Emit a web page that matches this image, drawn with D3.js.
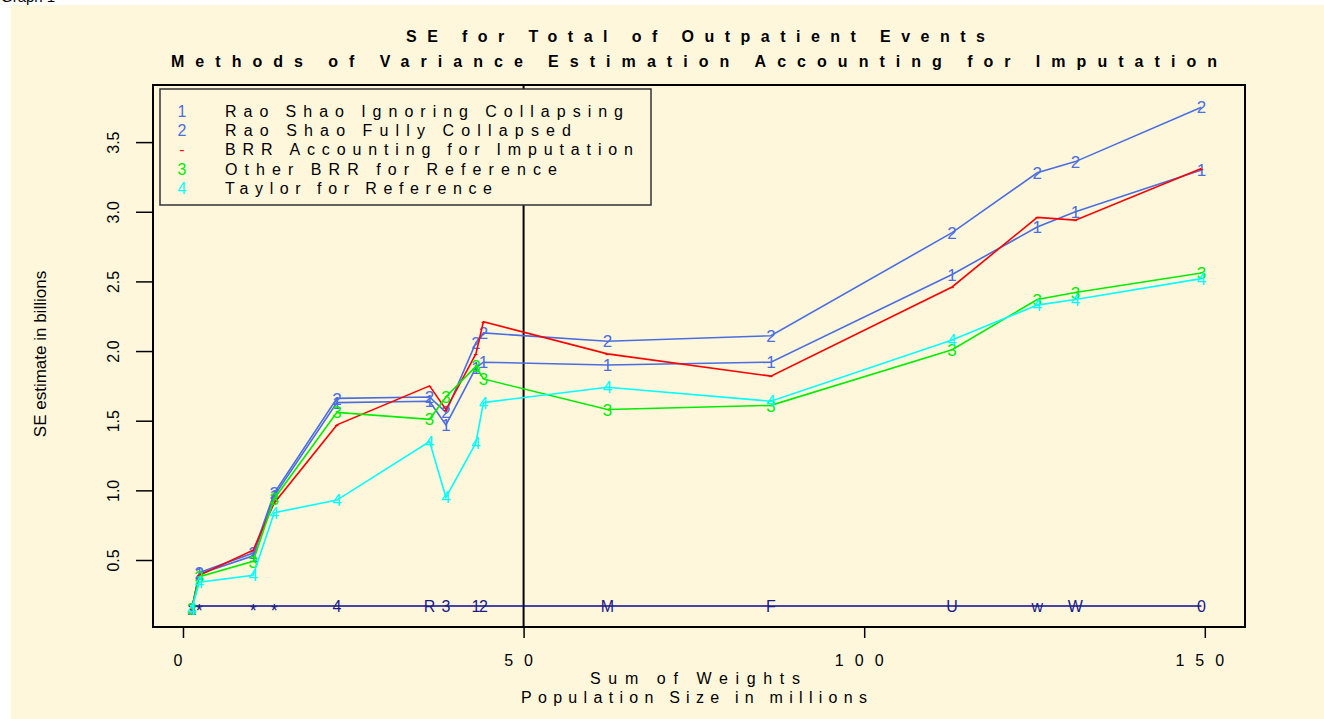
<!DOCTYPE html>
<html>
<head>
<meta charset="utf-8">
<script src="https://cdn.jsdelivr.net/npm/d3@7"></script>
<style>
  body { margin: 0; background: #fff; }
  svg { display: block; font-family: "Liberation Sans", Arial, sans-serif; }
</style>
</head>
<body>
<svg id="chart" width="1324" height="719"></svg>
<script>
// population size (sum of weights, millions) for each state group
const popSize = [1.3, 2.4, 10.3, 13.4, 22.6, 36.2, 38.6, 43.0, 44.1, 62.3, 86.3, 112.9, 125.4, 131.0, 149.5];
const baseLabels = ["*", "*", "*", "*", "4", "R", "3", "1", "2", "M", "F", "U", "w", "W", "0"];
const baseLevel = 0.17;

// SE estimates in billions
const seIgnoring = [0.15, 0.40, 0.53, 0.96, 1.63, 1.64, 1.47, 1.88, 1.92, 1.90, 1.92, 2.55, 2.89, 3.00, 3.30];
const seCollapsed = [0.15, 0.41, 0.55, 0.98, 1.66, 1.67, 1.56, 2.06, 2.13, 2.07, 2.11, 2.85, 3.28, 3.36, 3.75];
const seBrrImp = [0.15, 0.39, 0.57, 0.91, 1.47, 1.75, 1.58, 1.98, 2.21, 1.98, 1.82, 2.46, 2.96, 2.94, 3.31];
const seOtherBrr = [0.15, 0.38, 0.49, 0.94, 1.56, 1.51, 1.67, 1.89, 1.80, 1.58, 1.61, 2.01, 2.37, 2.42, 2.56];
const seTaylor = [0.15, 0.34, 0.39, 0.84, 0.93, 1.35, 0.95, 1.34, 1.63, 1.74, 1.64, 2.08, 2.33, 2.37, 2.52];

const seriesNames = [
  "Rao Shao Ignoring Collapsing",
  "Rao Shao Fully Collapsed",
  "BRR Accounting for Imputation",
  "Other BRR for Reference",
  "Taylor for Reference"
];
const seriesSymbols = ["1", "2", "-", "3", "4"];
const xTicks = [0, 50, 100, 150];
const yTicks = [0.5, 1.0, 1.5, 2.0, 2.5, 3.0, 3.5];

const colors = ["#4a6ee0", "#4a6ee0", "#ff0000", "#00ee00", "#00ffff"];
const series = [seIgnoring, seCollapsed, seBrrImp, seOtherBrr, seTaylor].map((values, i) => ({
  name: seriesNames[i], sym: seriesSymbols[i], color: colors[i], values
}));

// R spreads letters out but keeps word gaps tight
const spread = s => s.replace(/ /g, "\u2009");

const svg = d3.select("#chart");
const x = d3.scaleLinear().domain([-4.4, 155.9]).range([153, 1245]);
const y = d3.scaleLinear().domain([0.019, 3.91]).range([627, 85]);

// page background
svg.append("rect").attr("x", 0).attr("y", 0).attr("width", 1324).attr("height", 719).attr("fill", "#fff");
svg.append("rect").attr("x", 11).attr("y", 5).attr("width", 1313).attr("height", 714).attr("fill", "#fff7dc");
svg.append("text").attr("x", 1).attr("y", 2).style("font-size", "15px").text("Graph 1");

// titles
const titles = [
  { text: "SE for Total of Outpatient Events", x: 406, y: 42, len: 579 },
  { text: "Methods of Variance Estimation Accounting for Imputation", x: 171, y: 67, len: 1046 }
];
svg.selectAll(".title").data(titles).join("text")
  .attr("class", "title")
  .attr("x", d => d.x).attr("y", d => d.y)
  .attr("textLength", d => d.len).attr("lengthAdjust", "spacing")
  .style("font-size", "16px").style("font-weight", "bold")
  .text(d => spread(d.text));

// axes
const xAxis = svg.append("g")
  .attr("transform", `translate(0,${y.range()[0]})`)
  .call(d3.axisBottom(x).tickValues(xTicks).tickSize(11).tickPadding(17).tickFormat(d3.format("d")));
xAxis.select(".domain").remove();
xAxis.selectAll("line").attr("stroke", "#000").attr("stroke-width", 1.5);
xAxis.selectAll("text")
  .attr("fill", "#000")
  .style("font-size", "16px").style("letter-spacing", "11px")
  .style("font-family", "'Liberation Sans', Arial, sans-serif");

const yAxis = svg.append("g")
  .attr("transform", `translate(${x.range()[0]},0)`)
  .call(d3.axisLeft(y).tickValues(yTicks).tickSize(17).tickFormat(d3.format(".1f")));
yAxis.select(".domain").remove();
yAxis.selectAll("line").attr("stroke", "#000").attr("stroke-width", 1.5);
yAxis.selectAll("text")
  .attr("x", null).attr("dy", "0.35em")
  .attr("text-anchor", "middle")
  .attr("transform", "translate(-40,0) rotate(-90)")
  .attr("fill", "#000")
  .style("font-size", "16px")
  .style("font-family", "'Liberation Sans', Arial, sans-serif");

// axis titles
const xTitles = [
  { text: "Sum of Weights", x: 590, y: 684, len: 210 },
  { text: "Population Size in millions", x: 521, y: 703, len: 346 }
];
svg.selectAll(".xtitle").data(xTitles).join("text")
  .attr("class", "xtitle")
  .attr("x", d => d.x).attr("y", d => d.y)
  .attr("textLength", d => d.len).attr("lengthAdjust", "spacing")
  .style("font-size", "16px")
  .text(d => spread(d.text));

svg.append("text")
  .attr("transform", "translate(40,354) rotate(-90)")
  .attr("text-anchor", "middle").attr("dy", "0.35em")
  .style("font-size", "17px")
  .text("SE estimate in billions");

// vertical reference line at 50 million
svg.append("line")
  .attr("x1", x(50)).attr("x2", x(50))
  .attr("y1", y.range()[1]).attr("y2", y.range()[0])
  .attr("stroke", "#000").attr("stroke-width", 2);

// baseline of state codes
const baseLine = d3.line().x((d, i) => x(popSize[i])).y(() => y(baseLevel));
svg.append("path").datum(baseLabels)
  .attr("d", baseLine).attr("fill", "none")
  .attr("stroke", "#0a0a96").attr("stroke-width", 1.5);
svg.selectAll(".base").data(baseLabels).join("text")
  .attr("class", "base")
  .attr("x", (d, i) => x(popSize[i])).attr("y", y(baseLevel))
  .attr("dy", d => d === "*" ? "0.62em" : "0.36em")
  .attr("text-anchor", "middle")
  .attr("fill", "#1a1a88")
  .style("font-size", d => d === "*" ? "18px" : "16px")
  .text(d => d);

// series
const line = d3.line().x((d, i) => x(popSize[i])).y(d => y(d));
const groups = svg.selectAll(".series").data(series).join("g").attr("class", "series");
groups.append("path")
  .attr("d", d => line(d.values))
  .attr("fill", "none")
  .attr("stroke", d => d.color)
  .attr("stroke-width", 1.6);
groups.each(function (s) {
  d3.select(this).selectAll("text").data(s.values).join("text")
    .attr("x", (d, i) => x(popSize[i])).attr("y", d => y(d))
    .attr("dy", "0.36em")
    .attr("text-anchor", "middle")
    .attr("fill", s.color)
    .style("font-size", s.sym === "-" ? "14px" : "17px")
    .text(s.sym);
});

// plot frame
svg.append("rect")
  .attr("x", x.range()[0]).attr("y", y.range()[1])
  .attr("width", x.range()[1] - x.range()[0])
  .attr("height", y.range()[0] - y.range()[1])
  .attr("fill", "none").attr("stroke", "#000").attr("stroke-width", 2);

// legend
const legend = svg.append("g");
legend.append("rect")
  .attr("x", 160).attr("y", 89).attr("width", 491).attr("height", 116)
  .attr("fill", "#fff7dc").attr("stroke", "#333").attr("stroke-width", 1.5);
const legendLens = [398, 346, 408, 332, 267];
const rows = legend.selectAll(".row").data(series).join("g")
  .attr("class", "row")
  .attr("transform", (d, i) => `translate(0,${111 + i * 19.3})`);
rows.append("text")
  .attr("x", 182).attr("dy", "0.36em").attr("text-anchor", "middle")
  .attr("fill", d => d.color)
  .style("font-size", "16px")
  .text(d => d.sym);
rows.append("text")
  .attr("x", 225).attr("dy", "0.36em")
  .attr("textLength", (d, i) => legendLens[i]).attr("lengthAdjust", "spacing")
  .style("font-size", "16px")
  .text(d => spread(d.name));
</script>
</body>
</html>
